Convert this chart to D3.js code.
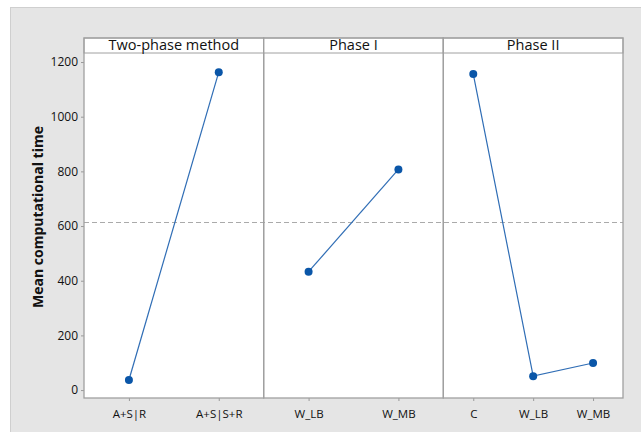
<!DOCTYPE html>
<html>
<head>
<meta charset="utf-8">
<script src="https://cdn.jsdelivr.net/npm/d3@7"></script>
<style>
  body { margin: 0; background: #fff; }
  text { font-family: "Open Sans", "Noto Sans", sans-serif; fill: #111; }
</style>
</head>
<body>
<div class="canvas"></div>
<script>
// Panel titles and their categories
const panels = ['Two-phase method', 'Phase I', 'Phase II'];
const twoPhaseLevels = ['A+S|R', 'A+S|S+R'];
const phase1Levels = ['W_LB', 'W_MB'];
const phase2Levels = ['C', 'W_LB', 'W_MB'];

// Mean computational time
const twoPhaseMeans = [37, 1163];
const phase1Means = [433, 807];
const phase2Means = [1156, 51, 99];

const grandMean = 613;
const yTicks = [0, 200, 400, 600, 800, 1000, 1200];

const dims = { width: 641, height: 432 };
const plot = { left: 84, top: 38, right: 623, bottom: 398, strip: 15 };

const svg = d3.select('.canvas')
              .append('svg')
              .attr('width', dims.width)
              .attr('height', dims.height);

// gray background
svg.append('rect')
   .attr('x', 10.5).attr('y', 7.5)
   .attr('width', dims.width).attr('height', dims.height)
   .attr('fill', '#e5e5e5')
   .attr('stroke', '#cfcfcf');

const data = [
  { name: panels[0], levels: twoPhaseLevels, means: twoPhaseMeans },
  { name: panels[1], levels: phase1Levels, means: phase1Means },
  { name: panels[2], levels: phase2Levels, means: phase2Means }
];

const y = d3.scaleLinear()
            .domain([-29, 1233])
            .range([plot.bottom, plot.top + plot.strip]);

const panelX = d3.scaleBand()
                 .domain(panels)
                 .range([plot.left, plot.right])
                 .padding(0);

// plot area
svg.append('rect')
   .attr('x', plot.left).attr('y', plot.top)
   .attr('width', plot.right - plot.left).attr('height', plot.bottom - plot.top)
   .attr('fill', '#fff');

// y axis
const yAxis = d3.axisLeft(y).tickValues(yTicks).tickFormat(d3.format('d')).tickSize(3).tickPadding(3);
svg.append('g')
   .attr('transform', `translate(${plot.left}, 0)`)
   .call(yAxis)
   .call(g => g.select('.domain').remove())
   .call(g => g.selectAll('line').attr('stroke', '#999'))
   .call(g => g.selectAll('text').attr('font-size', 12).attr('fill', '#111')
                .style('font-family', '"Open Sans", sans-serif'));

svg.append('text')
   .attr('transform', 'translate(43, 217) rotate(-90)')
   .attr('text-anchor', 'middle')
   .attr('font-size', 14)
   .attr('font-weight', 'bold')
   .text('Mean computational time');

// grand mean reference line
svg.append('line')
   .attr('x1', plot.left).attr('x2', plot.right)
   .attr('y1', y(grandMean)).attr('y2', y(grandMean))
   .attr('stroke', '#aaa')
   .attr('stroke-width', 1.2)
   .attr('stroke-dasharray', '5,3');

const line = d3.line();

data.forEach(p => {
  const x0 = panelX(p.name);
  const w = panelX.bandwidth();
  const x = d3.scalePoint().domain(p.levels).range([x0, x0 + w]).padding(0.5);

  const g = svg.append('g');

  // strip header
  g.append('rect')
   .attr('x', x0).attr('y', plot.top)
   .attr('width', w).attr('height', plot.strip)
   .attr('fill', '#fff')
   .attr('stroke', '#a0a0a0');

  g.append('text')
   .attr('x', x0 + w / 2).attr('y', plot.top + plot.strip - 3)
   .attr('text-anchor', 'middle')
   .attr('font-size', 14.5)
   .text(p.name);

  // x axis
  const xAxis = d3.axisBottom(x).tickSize(3).tickPadding(9);
  g.append('g')
   .attr('transform', `translate(0, ${plot.bottom})`)
   .call(xAxis)
   .call(a => a.select('.domain').remove())
   .call(a => a.selectAll('line').attr('stroke', '#999'))
   .call(a => a.selectAll('text').attr('font-size', 11.5).attr('fill', '#111')
                .style('font-family', '"Open Sans", sans-serif'));

  const pts = p.levels.map((l, i) => [x(l), y(p.means[i])]);

  g.append('path')
   .attr('d', line(pts))
   .attr('fill', 'none')
   .attr('stroke', '#2f6db5')
   .attr('stroke-width', 1.2);

  g.selectAll('circle')
   .data(pts)
   .enter()
   .append('circle')
   .attr('cx', d => d[0])
   .attr('cy', d => d[1])
   .attr('r', 4)
   .attr('fill', '#0a56a8');

  // panel frame
  g.append('rect')
   .attr('x', x0).attr('y', plot.top)
   .attr('width', w).attr('height', plot.bottom - plot.top)
   .attr('fill', 'none')
   .attr('stroke', '#a0a0a0')
   .attr('stroke-width', 1.3);
});
</script>
</body>
</html>
